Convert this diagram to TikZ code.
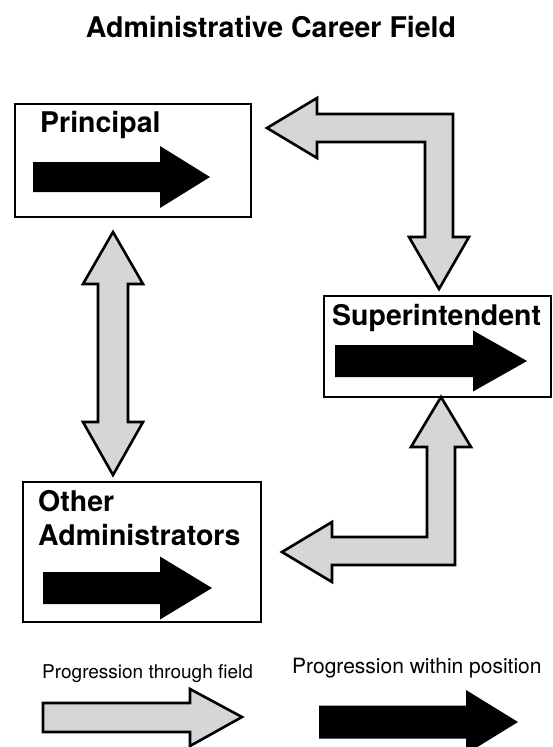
\documentclass[tikz,border=0pt]{standalone}
\usepackage{fontspec}
\setmainfont{TeX Gyre Heros}
\newcommand\posarr[6]{% left x, tip x, center y, shaft half, head half, head length
  \fill[posarrow] (#1,#3-#4) -- (#2-#6,#3-#4) -- (#2-#6,#3-#5) -- (#2,#3)
    -- (#2-#6,#3+#5) -- (#2-#6,#3+#4) -- (#1,#3+#4) -- cycle;}
\begin{document}
\begin{tikzpicture}[x=1pt,y=-1pt,
  box/.style={draw=black,line width=2.7pt,fill=white,inner sep=0pt},
  lbl/.style={anchor=base west,inner sep=0pt,font=\fontsize{28.5}{28.5}\selectfont\bfseries},
  fieldarrow/.style={draw=black,line width=2.6pt,fill=black!16,line join=miter},
  posarrow/.style={fill=black},
  legtext/.style={anchor=base west,inner sep=0pt}]
\useasboundingbox (0,0) rectangle (553,747);
\clip (0,0) rectangle (553,747);
% title
\node[anchor=base,inner sep=0pt,font=\fontsize{28.5}{28.5}\selectfont\bfseries] (title) at (271,37) {Administrative Career Field};
% boxes
\node[box,minimum width=236pt,minimum height=113pt] (principal) at (133,160.5) {};
\node[box,minimum width=227pt,minimum height=101pt] (super) at (437.5,346.5) {};
\node[box,minimum width=238pt,minimum height=140pt] (other) at (142,552) {};
% labels
\node[lbl] (lprin) at (40,132) {Principal};
\node[lbl] (lsup) at (332,325) {Superintendent};
\node[lbl] (loth1) at (38,511) {Other};
\node[lbl] (loth2) at (38,545) {Administrators};
% position arrows
\posarr{33}{210}{177}{15}{31}{50}
\posarr{335}{527}{361}{16}{30.5}{54}
\posarr{43}{212}{588}{16}{31.5}{52}
% field arrows
\coordinate (ptr) at (267,128);
\coordinate (sup) at (439,289);
\draw[fieldarrow] (ptr) -- (317,98) -- (317,114) -- (453,114) -- (453,237) -- (469,237)
  -- (sup) -- (409,237) -- (425,237) -- (425,142) -- (317,142) -- (317,158) -- cycle;
\coordinate (sbot) at (441,397);
\coordinate (otr) at (282,552);
\draw[fieldarrow] (sbot) -- (471,447) -- (455,447) -- (455,565) -- (332,565) -- (332,582)
  -- (otr) -- (332,522) -- (332,537) -- (427,537) -- (427,447) -- (411,447) -- cycle;
\coordinate (pbot) at (113,232);
\coordinate (otop) at (113,475);
\draw[fieldarrow] (pbot) -- (143,284) -- (128,284) -- (128,422) -- (143,422) -- (otop)
  -- (83,422) -- (98,422) -- (98,284) -- (83,284) -- cycle;
% legend
\node[legtext,font=\fontsize{19}{19}\selectfont] (lfield) at (42,678) {Progression through field};
\node[legtext,font=\fontsize{21}{21}\selectfont] (lpos) at (292,673) {Progression within position};
\draw[fieldarrow] (43,703) -- (190,703) -- (190,689) -- (242,717) -- (190,746) -- (190,732) -- (43,732) -- cycle;
\posarr{319}{518}{722}{16.5}{32}{52}
\end{tikzpicture}
\end{document}
